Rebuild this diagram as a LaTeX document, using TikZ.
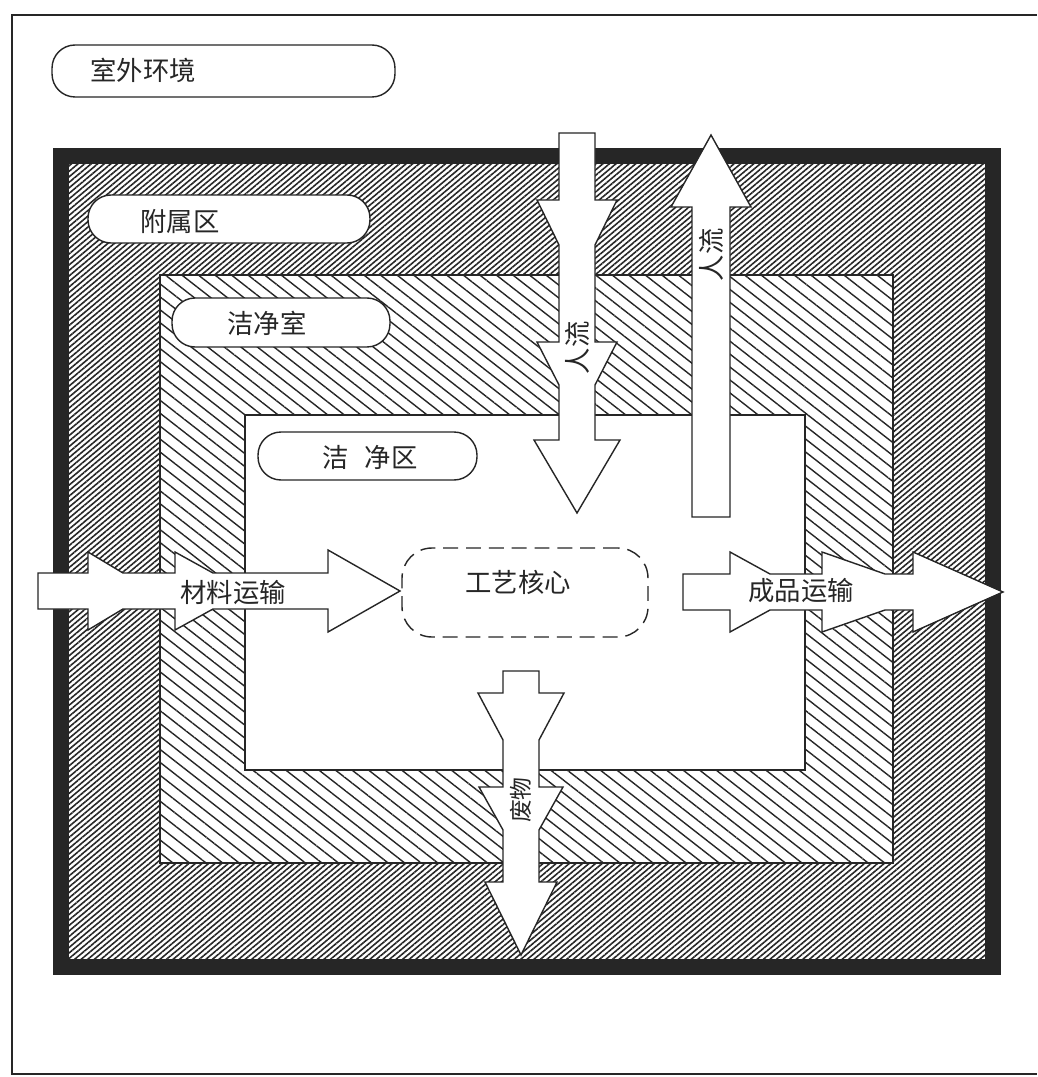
\documentclass[tikz,border=0pt]{standalone}
\usepackage{fontspec}
\newfontfamily\cjk{Noto Sans CJK SC}
\usetikzlibrary{patterns.meta}
\definecolor{ink}{gray}{0.15}

\begin{document}
\begin{tikzpicture}[x=0.02cm, y=-0.02cm,
    zone/.style={draw=ink, line width=0.8pt, rounded corners=0.46cm, fill=white},
    zonetext/.style={font=\cjk\fontsize{15}{18}\selectfont, text=ink, inner sep=0pt, anchor=west},
    flow/.style={draw=ink, line width=0.8pt, fill=white, line join=miter},
    flowtext/.style={font=\cjk\fontsize{15}{18}\selectfont, text=ink, inner sep=0pt},
    finehatch/.style={pattern={Lines[angle=40, distance=2.4pt, line width=0.9pt]}, pattern color=ink},
    coarsehatch/.style={pattern={Lines[angle=-38, distance=5.8pt, line width=0.8pt]}, pattern color=ink}
]
\useasboundingbox (0,0) rectangle (1037,1077);
\fill[white] (0,0) rectangle (1037,1077);
\draw[ink, line width=0.8pt] (1037,15) -- (12,15) -- (12,1074) -- (1037,1074);

\fill[white] (61,156) rectangle (993,967);
\fill[finehatch] (61,156) rectangle (993,967);
\filldraw[fill=white, draw=ink, line width=0.6pt] (160,275) rectangle (893,863);
\fill[coarsehatch] (160,275) rectangle (893,863);
\filldraw[fill=white, draw=ink, line width=0.6pt] (245,415) rectangle (805,770);
\draw[ink, line width=0.32cm] (61,156) rectangle (993,967);

\node[zone, minimum width=6.86cm, minimum height=1.04cm] at (223.5,71) (outdoorbox) {};
\node[zonetext] at (90,70) (outdoor) {室外环境};
\node[zone, minimum width=5.64cm, minimum height=0.96cm] at (229,219) (auxbox) {};
\node[zonetext] at (140,222) (aux) {附属区};
\node[zone, minimum width=4.36cm, minimum height=0.98cm] at (281,322.5) (cleanroombox) {};
\node[zonetext] at (227,323) (cleanroom) {洁净室};
\node[zone, minimum width=4.38cm, minimum height=0.96cm] at (367.5,456) (cleanzonebox) {};
\node[zonetext] at (322,457) (cleanzone) {洁\hspace{0.32cm}净区};
\node[zone, dash pattern=on 8.5pt off 4.5pt, rounded corners=0.6cm, minimum width=4.92cm, minimum height=1.78cm] at (525,592.5) (corebox) {};
\node[zonetext] at (465,582) (core) {工艺核心};

\draw[flow] (38,573) -- (88,573) -- (88,552) -- (123,573) -- (175,573) -- (175,552) -- (213,573)
  -- (328,573) -- (328,550) -- (400,591) -- (328,632) -- (328,609) -- (213,609) -- (175,630)
  -- (175,609) -- (123,609) -- (88,630) -- (88,609) -- (38,609) -- cycle;
\draw[flow] (683,574) -- (730,574) -- (730,552) -- (770,574) -- (822,574) -- (822,552) -- (885,574)
  -- (913,574) -- (913,552) -- (1003,592) -- (913,632) -- (913,610) -- (885,610) -- (822,632)
  -- (822,610) -- (770,610) -- (730,632) -- (730,610) -- (683,610) -- cycle;
\draw[flow] (559,133) -- (595,133) -- (595,200) -- (617,200) -- (595,245) -- (595,342) -- (617,342)
  -- (595,385) -- (595,440) -- (620,440) -- (577,513) -- (534,440) -- (559,440) -- (559,385)
  -- (537,342) -- (559,342) -- (559,245) -- (537,200) -- (559,200) -- cycle;
\draw[flow] (692,517) -- (730,517) -- (730,207) -- (751,207) -- (711,135) -- (671,207) -- (692,207) -- cycle;
\draw[flow] (503,671) -- (539,671) -- (539,693) -- (564,693) -- (539,740) -- (539,787) -- (563,787)
  -- (539,830) -- (539,882) -- (557,882) -- (521,955) -- (485,882) -- (503,882) -- (503,830)
  -- (479,787) -- (503,787) -- (503,740) -- (478,693) -- (503,693) -- cycle;

\node[flowtext, anchor=west] at (180,592) (material) {材料运输};
\node[flowtext, anchor=west] at (748,591) (product) {成品运输};
\node[flowtext, rotate=90] at (577,348) (peoplein) {人流};
\node[flowtext, rotate=90] at (711,255) (peopleout) {人流};
\node[flowtext, rotate=90, font=\cjk\fontsize{13}{16}\selectfont] at (521,800) (waste) {废物};
\end{tikzpicture}
\end{document}
